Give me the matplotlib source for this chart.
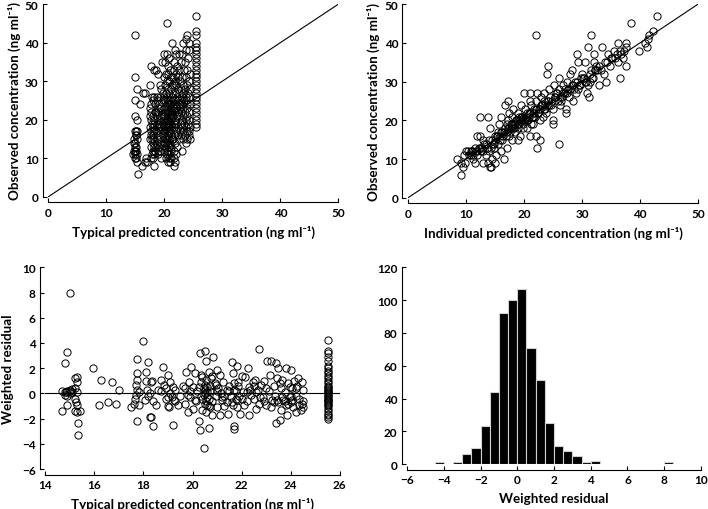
import matplotlib
matplotlib.use('Agg')
import matplotlib.pyplot as plt
import numpy as np

plt.rcParams['font.family'] = ['Lato', 'DejaVu Sans']
plt.rcParams['font.weight'] = 'bold'
plt.rcParams['axes.labelweight'] = 'bold'

# typical predicted vs observed (top left)
tl_pred = [15.0, 15.0, 14.9, 15.0, 15.3, 15.3, 15.0, 15.2, 15.3, 15.2, 14.8, 15.3, 15.0, 14.9,
           15.2, 14.8, 15.0, 15.2, 14.7, 15.0, 15.3, 15.2, 15.3, 15.4, 15.9, 14.8, 15.1, 15.0,
           16.4, 16.7, 16.6, 16.1, 17.0, 16.8,
           17.5, 17.8, 18.3, 17.9, 18.1, 17.7, 17.6, 17.8, 17.6, 18.0, 17.7, 18.2, 17.9, 18.3,
           17.6, 18.0, 17.8, 18.2, 17.7, 18.1, 17.9, 18.3, 17.6, 18.0, 18.2, 17.8, 18.1, 18.4,
           17.9, 18.2, 18.0, 18.3, 17.7, 18.4, 18.4, 18.2,
           18.6, 19.0, 18.8, 19.2, 18.7, 19.1, 18.9, 19.3, 18.6, 19.0, 19.4, 18.8, 19.2, 18.7,
           19.1, 19.4, 18.9, 18.6, 19.3, 19.0, 18.8, 19.2, 19.4, 18.7, 19.1, 18.9, 19.3, 19.0,
           19.4, 18.6, 19.5, 19.3, 19.6,
           20.5, 20.0, 20.5, 20.8, 20.2, 20.6, 21.0, 20.3, 20.7, 21.2, 19.9, 20.4, 20.9, 21.3,
           20.1, 20.6, 21.1, 19.8, 20.3, 20.8, 21.4, 20.0, 20.5, 21.0, 19.7, 20.2, 20.7, 21.2,
           20.4, 20.9, 19.9, 20.3, 20.6, 21.1, 21.4, 20.1, 20.5, 20.8, 19.8, 20.2, 20.6, 21.0,
           21.3, 20.0, 20.4, 20.7, 21.1, 19.7, 20.3, 20.6, 20.9, 21.2, 20.0, 20.5, 20.8, 21.4,
           19.9, 20.2, 20.6, 21.0, 20.4, 20.7, 21.1, 19.8, 20.1, 20.5, 20.9, 21.3, 20.3, 20.6,
           21.0, 19.9, 20.2, 20.8, 21.2, 20.4, 20.7, 21.1, 20.0, 20.5, 20.9, 20.3, 20.8, 21.2,
           20.6, 21.0, 21.6,
           21.4, 21.8, 22.0, 21.6, 22.2, 21.7, 22.0, 21.5, 22.3, 21.9, 21.6, 22.1, 22.4, 21.8,
           22.2, 21.5, 21.9, 22.3, 21.7, 22.1, 21.6, 22.0, 22.4, 21.8, 21.5, 22.2, 21.9, 21.7,
           22.1, 22.4, 21.6, 22.0, 21.8, 22.3, 21.5, 21.9, 22.2, 21.7, 22.0, 21.6, 21.8,
           22.5, 23.2, 23.0, 22.8, 23.4, 22.6, 23.1, 22.7, 23.3, 22.9, 23.2, 22.6, 23.0, 23.4,
           22.8, 22.5, 23.1, 22.7, 23.3, 22.9, 23.2, 22.6, 23.0, 23.4, 22.8, 23.1, 22.7, 23.3,
           22.9, 23.0, 23.2, 22.6,
           24.0, 23.8, 24.2, 23.7, 24.3, 24.1, 23.6, 24.0, 24.4, 23.8, 24.2, 23.9, 24.4, 23.6,
           24.1, 23.8, 24.3, 23.7, 24.0, 24.4, 23.9, 24.2, 23.6, 24.0, 24.3, 23.8, 24.1, 23.7,
           24.4, 23.9, 24.2, 23.6, 24.0, 24.5, 23.8, 24.3,
           25.5, 25.5, 25.5, 25.5, 25.5, 25.5, 25.5, 25.5, 25.5, 25.5, 25.5, 25.5, 25.5,
           25.5, 25.5, 25.5, 25.5, 25.5, 25.5, 25.5, 25.5, 25.5, 25.5, 25.5, 25.5, 25.5]
tl_obs = [42, 31, 25, 21, 28, 20, 17, 17, 17, 16, 15, 15, 14, 13,
          13, 12, 12, 12, 11, 11, 11, 10, 9, 6, 24, 14, 16, 10,
          27, 27, 9, 8, 9, 10,
          29, 34, 33, 26, 25, 24, 23, 22, 21, 21, 20, 20, 19, 19,
          18, 18, 17, 17, 16, 16, 15, 15, 15, 14, 13, 13, 12, 12,
          11, 11, 10, 8, 10, 22, 24, 26,
          33, 32, 26, 26, 25, 24, 23, 23, 22, 22, 21, 21, 20, 19,
          19, 18, 18, 17, 17, 16, 15, 15, 14, 14, 13, 12, 12, 11,
          10, 13, 28, 29, 35,
          45, 37, 37, 36, 35, 34, 33, 32, 32, 31, 31, 30, 30, 29,
          29, 28, 28, 27, 27, 27, 26, 26, 26, 25, 25, 25, 25, 24,
          24, 24, 23, 23, 23, 23, 22, 22, 22, 22, 21, 21, 21, 21,
          21, 20, 20, 20, 20, 19, 19, 19, 19, 19, 18, 18, 18, 18,
          17, 17, 17, 17, 16, 16, 16, 16, 15, 15, 15, 15, 14, 14,
          14, 14, 13, 13, 13, 12, 12, 12, 12, 11, 11, 10, 10, 10,
          9, 9, 8,
          40, 38, 37, 35, 34, 33, 32, 31, 31, 30, 29, 29, 28, 27,
          26, 25, 25, 25, 24, 24, 23, 23, 22, 22, 21, 21, 20, 19,
          19, 18, 18, 17, 16, 16, 15, 14, 13, 12, 11, 10, 9,
          37, 40, 37, 35, 33, 33, 31, 30, 29, 28, 27, 27, 26, 25,
          25, 24, 24, 23, 23, 22, 21, 21, 20, 19, 19, 18, 17, 17,
          16, 12, 15, 15,
          42, 41, 40, 38, 38, 36, 35, 33, 32, 31, 30, 29, 28, 28,
          27, 26, 26, 25, 24, 24, 23, 22, 22, 21, 20, 20, 19, 18,
          18, 17, 16, 16, 15, 15, 14, 17,
          47, 43, 42, 40, 39, 38, 37, 36, 35, 34, 33, 32, 31,
          30, 29, 28, 27, 26, 25, 24, 23, 22, 21, 20, 19, 18]

# individual predicted vs observed (top right)
tr_ipred = [8.4, 9.2, 9.5, 9.8, 9.2, 9.7, 10.0, 10.3, 10.8, 11.0, 11.2, 11.5, 11.5, 12.0,
            12.0, 12.5, 12.5, 13.8, 12.8, 13.0, 13.0, 13.5, 13.8, 14.0, 14.2, 14.4, 14.5, 14.5,
            14.2, 14.8, 15.0, 15.0, 15.2, 15.5, 15.5, 15.7, 16.0, 16.0, 16.2, 16.5, 16.5, 16.8,
            17.2, 17.0, 17.0, 17.3, 17.5, 17.5, 17.8, 18.0, 18.0, 18.2, 18.5, 18.5, 18.8, 19.0,
            19.0, 19.0, 19.3, 19.5, 19.5, 19.8, 20.0, 20.0, 20.2, 20.5, 20.5, 20.8, 21.0, 21.0,
            21.0, 21.3, 21.5, 21.5, 21.8, 22.0, 22.0, 22.2, 22.0, 22.3, 22.5, 22.8, 22.8, 23.0,
            23.0, 23.3, 23.5, 23.5, 23.8, 24.0, 24.2, 24.0, 24.3, 24.5, 25.0, 25.0, 25.0, 25.2,
            25.5, 25.8, 26.0, 26.0, 26.0, 26.3, 26.5, 26.8, 27.0, 27.2, 27.3, 27.5, 27.8, 28.0,
            28.0, 28.3, 28.5, 28.8, 29.0, 29.2, 29.3, 29.5, 29.8, 30.0, 30.5, 30.5, 30.8, 31.0,
            31.0, 31.2, 31.5, 31.5, 31.8, 32.0, 32.0, 32.2, 32.5, 33.0, 33.0, 33.5, 34.2, 34.3,
            34.5, 35.0, 35.5, 36.0, 36.2, 36.5, 36.5, 37.0, 37.5, 37.5, 37.5, 38.5, 39.8, 40.8,
            41.2, 41.3, 41.5, 42.3, 43.0,
            10.5, 10.9, 11.3, 11.7, 12.2, 12.6, 13.2, 13.6, 14.0, 14.6, 15.0, 15.3, 15.8, 16.1,
            16.4, 16.7, 17.1, 17.4, 17.7, 18.1, 18.4, 18.7, 19.1, 19.4, 19.7, 20.1, 20.4, 20.7,
            21.1, 21.4, 21.7, 22.1, 22.4, 22.7, 23.1, 23.4, 23.7, 24.1, 24.4, 24.8, 25.3, 25.7,
            26.2, 26.7, 27.1, 27.6, 28.2, 28.7, 29.1, 29.7, 30.2, 30.7, 31.3, 31.9, 32.6, 33.2,
            34.0, 34.8, 35.7, 36.7, 37.3,
            11.1, 11.9, 12.4, 12.9, 13.4, 14.3, 14.9, 15.4, 15.9, 16.3, 16.9, 17.2, 17.6, 17.9,
            18.3, 18.6, 18.9, 19.2, 19.6, 19.9, 20.3, 20.6, 20.9, 21.2, 21.6, 21.9, 22.6, 23.2,
            23.6, 24.2, 24.7, 25.4, 26.4, 27.4, 28.4, 29.4, 30.4, 31.4, 32.3, 33.8, 35.2, 36.2]
tr_obs = [10, 6, 8, 9, 9, 11, 12, 12, 11, 12, 10, 9, 13, 12,
          16, 16, 21, 21, 13, 15, 9, 11, 9, 12, 8, 8, 10, 15,
          18, 13, 16, 9, 11, 14, 17, 19, 21, 12, 15, 17, 10, 24,
          25, 19, 13, 20, 16, 22, 18, 21, 15, 23, 19, 17, 20, 22,
          18, 15, 16, 21, 24, 19, 20, 27, 23, 18, 22, 21, 25, 27,
          16, 24, 21, 19, 23, 42, 16, 13, 25, 27, 22, 15, 20, 24,
          26, 21, 25, 27, 22, 24, 34, 32, 28, 26, 19, 20, 23, 29,
          27, 25, 14, 31, 28, 24, 26, 29, 27, 23, 22, 30, 26, 28,
          32, 33, 25, 30, 27, 37, 35, 29, 31, 32, 30, 35, 27, 29,
          39, 26, 42, 33, 31, 35, 37, 33, 34, 29, 34, 39, 30, 35,
          37, 36, 38, 37, 40, 31, 38, 36, 34, 39, 40, 45, 38, 40,
          39, 41, 42, 43, 47,
          11, 12, 11, 12, 13, 12, 14, 13, 15, 14, 15, 16, 16, 17,
          16, 18, 17, 18, 19, 18, 19, 20, 19, 20, 21, 20, 21, 20,
          22, 21, 22, 23, 22, 23, 24, 23, 24, 25, 24, 25, 26, 27,
          26, 27, 28, 28, 29, 28, 30, 29, 31, 30, 32, 31, 33, 33,
          35, 34, 36, 37, 38,
          12, 11, 13, 12, 14, 13, 14, 16, 15, 17, 16, 18, 17, 19,
          18, 20, 19, 21, 20, 18, 21, 20, 22, 19, 22, 21, 23, 24,
          23, 25, 24, 26, 25, 27, 29, 28, 31, 30, 33, 32, 36, 35]

# typical predicted vs weighted residual (bottom left)
bl_pred = [15.0, 14.9, 14.8, 14.7, 14.8, 14.85, 14.9, 15.0, 15.1, 14.9, 14.8, 15.0, 14.7, 14.9,
           15.2, 15.3, 15.3, 15.2, 15.3, 15.2, 15.25, 15.3, 15.2, 15.3, 15.4, 15.35, 15.35, 15.1,
           15.0, 15.95, 16.2, 16.25, 16.55, 16.7, 16.9, 17.0,
           17.5, 17.6, 17.65, 17.7, 17.75, 17.75, 17.75, 17.7, 17.75, 17.8, 17.75, 17.8,
           18.0, 18.05, 18.1, 18.1, 18.2, 18.15, 18.2, 18.25, 18.3, 18.35, 18.4, 18.3, 18.25, 18.4,
           18.5, 18.6, 18.7, 18.8, 18.85, 18.9, 19.0, 19.0, 19.05, 19.1, 19.15, 19.2, 19.2, 19.25,
           19.3, 19.4, 19.5, 19.6, 19.7, 19.75, 19.8, 19.85, 19.9, 19.95, 20.0, 20.0, 20.1, 20.15,
           20.2, 20.25, 20.3, 20.3, 20.35, 20.4, 20.4, 20.45, 20.5, 20.5, 20.5, 20.55, 20.55, 20.6,
           20.6, 20.65, 20.65, 20.7, 20.7, 20.75, 20.8, 20.8, 20.85, 20.9, 20.95, 21.0, 21.0, 21.05,
           21.1, 21.1, 21.15, 21.2, 21.25, 21.3, 21.4, 21.45, 21.5, 21.55, 21.6, 21.6, 21.65, 21.7,
           21.7, 21.7, 21.75, 21.8, 21.8, 21.85, 21.9, 21.95, 22.0, 22.05, 22.1, 22.15, 22.2, 22.25,
           22.3, 22.3, 22.4, 22.45, 22.5, 22.55, 22.6, 22.65, 22.7, 22.7, 22.8, 22.85, 22.9, 23.0,
           23.05, 23.1, 23.15, 23.2, 23.2, 23.25, 23.3, 23.35, 23.4, 23.4, 23.45, 23.5, 23.5, 23.55,
           23.6, 23.6, 23.65, 23.7, 23.75, 23.8, 23.8, 23.85, 23.9, 23.95, 24.0, 24.0, 24.05, 24.1,
           24.15, 24.2, 24.2, 24.25, 24.3, 24.35, 24.4, 24.45, 24.5, 24.5, 24.5,
           20.35, 20.45, 20.55, 20.6, 20.65, 20.5, 20.4, 20.7, 20.55, 20.45, 20.6, 20.5, 20.65, 20.35,
           19.9, 20.1, 20.25, 20.8, 21.0, 21.2, 19.7, 19.8, 21.4, 21.75, 21.85, 21.65, 21.7, 21.8,
           22.35, 22.6, 22.9, 23.3, 23.65, 23.9, 24.05, 24.2, 24.35, 24.45, 23.75, 24.0, 23.55, 23.95,
           18.9, 19.1, 19.3, 18.7, 19.0, 20.95, 21.3, 21.5, 22.0, 22.2, 22.5, 22.75, 23.0, 23.45,
           25.5, 25.5, 25.5, 25.5, 25.5, 25.5, 25.5, 25.5, 25.5, 25.5, 25.5, 25.5, 25.5, 25.5,
           25.5, 25.5, 25.5, 25.5, 25.5, 25.5, 25.5, 25.5, 25.5, 25.5, 25.5, 25.5, 25.5, 25.5,
           25.5, 25.5, 25.5, 25.5, 25.5, 25.5, 25.5, 25.5]
bl_wres = [8.0, 3.3, 2.4, 0.2, 0.15, 0.1, 0.2, 0.3, 0.35, -0.2, -0.1, 0.2, -1.4, -0.9,
           1.2, 1.3, 0.9, 0.4, 0.1, -0.4, -0.7, -0.9, -1.4, -1.5, -1.4, -2.3, -3.3, 0.1,
           0.05, 2.0, -0.9, 1.05, -0.65, 0.9, -0.8, 0.3,
           -1.1, -0.8, -0.4, -0.1, 1.6, 2.7, 1.1, 0.7, -2.2, -0.9, 0.3, 0.1,
           4.15, -0.5, 1.0, 1.7, 2.5, 0.3, -0.2, -1.9, -1.9, 1.0, -2.6, 0.9, 0.0, -0.6,
           -0.9, 0.3, 1.1, 2.1, 0.7, 0.4, 1.5, -1.0, -1.1, 0.9, -0.3, 0.5, -2.5, -0.5,
           0.3, -0.9, -0.2, 0.6, -0.8, 1.7, -1.5, 0.9, -0.3, 2.1, -1.2, 0.5, 1.6, -0.6,
           0.2, -2.2, -2.9, 3.2, 0.9, -0.4, 1.3, -4.3, 3.4, 0.0, -0.8, 2.6, -1.5, 0.5,
           -0.3, 1.7, -2.7, -1.1, 0.2, 1.2, -0.6, -1.7, 2.9, 0.8, -0.2, 1.9, -1.1, 0.4,
           -1.7, 1.5, 0.0, -0.5, 0.9, -1.0, 0.3, -1.6, 0.6, -0.3, 2.5, -0.7, 1.6, -2.6,
           -2.8, 0.3, -0.4, 2.2, -1.1, 0.9, -0.2, -1.6, 1.4, 0.1, -0.9, 1.3, -0.6, 2.0,
           0.5, -1.7, -0.1, 0.9, -0.4, 1.1, -1.2, 0.3, 3.5, -0.8, 0.7, -0.3, 1.0, -0.9,
           2.6, 0.2, 1.5, 2.6, -1.1, -0.5, 0.6, -0.2, 2.4, -2.3, 1.2, 2.0, -0.7, -2.1,
           0.4, -1.3, 1.1, -0.5, 0.1, 2.0, -0.9, -1.7, 0.8, -0.3, 1.9, -0.7, 0.4, -1.1,
           1.0, -0.2, -1.5, 0.6, 1.2, -0.9, -1.3, 0.9, 0.3, -1.1, -0.6,
           -0.2, 0.4, -0.6, 0.1, -1.0, 0.7, -1.3, 0.6, 1.1, -0.1, -0.9, 0.3, -0.4, 1.5,
           0.2, -0.5, 0.5, 1.4, 0.2, -0.3, 0.4, -0.1, -0.7, 0.2, 0.6, -0.9, 0.8, -0.5,
           0.3, 0.1, -0.6, -0.7, -0.3, -0.8, -0.5, 0.4, -0.4, -0.8, -0.6, -0.2, 0.8, 0.5,
           -0.4, 0.0, -0.6, 0.2, -0.3, 0.7, -0.2, 0.2, -0.4, 0.1, 0.6, -0.3, 0.4, -0.5,
           4.25, 3.4, 3.2, 2.9, 2.6, 2.2, 2.0, 1.8, 1.6, 1.4, 1.2, 1.0, 0.8, 0.6,
           0.5, 0.4, 0.3, 0.2, 0.1, 0.0, -0.1, -0.2, -0.3, -0.4, -0.5, -0.6, -0.7, -0.8,
           -0.9, -1.0, -1.2, -1.4, -1.6, -1.7, -1.9, -2.05]

# histogram of weighted residuals (bottom right)
hist_left = [-4.5, -4.0, -3.5, -3.0, -2.5, -2.0, -1.5, -1.0, -0.5, 0.0, 0.5, 1.0, 1.5,
             2.0, 2.5, 3.0, 3.5, 4.0, 8.0]
hist_count = [1, 0, 1, 6, 10, 23, 44, 92, 100, 107, 71, 51, 25, 11, 8, 5, 1, 2, 1]

label_pred = 'Typical predicted concentration (ng ml⁻¹)'
label_ipred = 'Individual predicted concentration (ng ml⁻¹)'
label_obs = 'Observed concentration (ng ml⁻¹)'
label_wres = 'Weighted residual'

LABEL_SIZE = 9.6


def style_axes(ax):
    for side in ['top', 'right']:
        ax.spines[side].set_visible(False)
    for side in ['left', 'bottom']:
        ax.spines[side].set_position(('outward', 4))
        ax.spines[side].set_linewidth(0.8)
    ax.tick_params(direction='in', length=3, width=0.8, labelsize=8.5, pad=3)
    for lab in ax.get_xticklabels() + ax.get_yticklabels():
        lab.set_fontweight('bold')


def scatter(ax, x, y):
    ax.plot(x, y, linestyle='none', marker='o', markersize=5.2,
            markerfacecolor='none', markeredgecolor='black', markeredgewidth=0.7)


fig = plt.figure(figsize=(7.08, 5.10), dpi=100)

ax1 = fig.add_axes([0.068, 0.612, 0.41, 0.378])
scatter(ax1, tl_pred, tl_obs)
ax1.plot([0, 50], [0, 50], color='black', linewidth=0.8)
ax1.set_xlim(0, 50)
ax1.set_ylim(0, 50)
ax1.set_xticks([0, 10, 20, 30, 40, 50])
ax1.set_yticks([0, 10, 20, 30, 40, 50])
ax1.set_xlabel(label_pred, fontsize=LABEL_SIZE, labelpad=5)
ax1.set_ylabel(label_obs, fontsize=LABEL_SIZE, labelpad=3)
style_axes(ax1)

ax2 = fig.add_axes([0.576, 0.61, 0.41, 0.38])
scatter(ax2, tr_ipred, tr_obs)
ax2.plot([0, 50], [0, 50], color='black', linewidth=0.8)
ax2.set_xlim(0, 50)
ax2.set_ylim(0, 50)
ax2.set_xticks([0, 10, 20, 30, 40, 50])
ax2.set_yticks([0, 10, 20, 30, 40, 50])
ax2.set_xlabel(label_ipred, fontsize=LABEL_SIZE, labelpad=5)
ax2.set_ylabel(label_obs, fontsize=LABEL_SIZE, labelpad=3)
style_axes(ax2)

ax3 = fig.add_axes([0.064, 0.078, 0.416, 0.396])
scatter(ax3, bl_pred, bl_wres)
ax3.axhline(0, color='black', linewidth=0.8)
ax3.set_xlim(14, 26)
ax3.set_ylim(-6, 10)
ax3.set_xticks([14, 16, 18, 20, 22, 24, 26])
ax3.set_yticks([-6, -4, -2, 0, 2, 4, 6, 8, 10])
ax3.set_xlabel(label_pred, fontsize=LABEL_SIZE, labelpad=5)
ax3.set_ylabel(label_wres, fontsize=LABEL_SIZE, labelpad=6)
style_axes(ax3)

ax4 = fig.add_axes([0.575, 0.088, 0.415, 0.386])
ax4.bar(hist_left, hist_count, width=0.5, align='edge', color='black',
        edgecolor='#d0d0d0', linewidth=0.8)
ax4.set_xlim(-6, 10)
ax4.set_ylim(0, 120)
ax4.set_xticks([-6, -4, -2, 0, 2, 4, 6, 8, 10])
ax4.set_yticks([0, 20, 40, 60, 80, 100, 120])
ax4.set_xlabel(label_wres, fontsize=LABEL_SIZE, labelpad=5)
style_axes(ax4)

fig.savefig('out.png', dpi=100)
